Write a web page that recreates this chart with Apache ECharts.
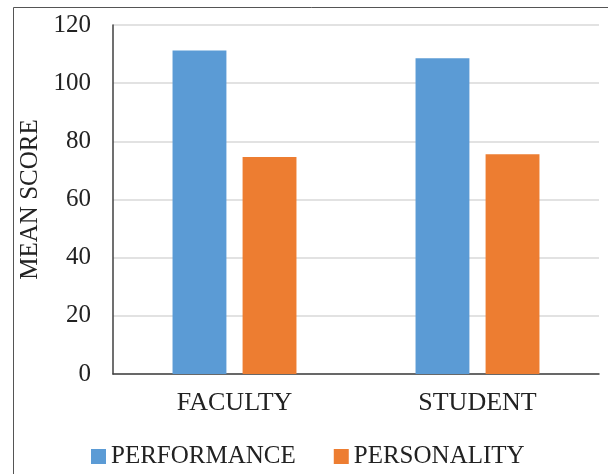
<!DOCTYPE html>
<html>
<head>
<meta charset="utf-8">
<script src="https://cdn.jsdelivr.net/npm/echarts@6/dist/echarts.min.js"></script>
<style>
  html, body { margin: 0; padding: 0; background: #fff; }
  #chart { width: 608px; height: 474px; }
</style>
</head>
<body>
<div id="chart"></div>
<script>
var groups = ["FACULTY", "STUDENT"]; // x categories
var seriesNames = ["PERFORMANCE", "PERSONALITY"];
var performance = [111.2, 108.6];
var personality = [74.6, 75.6];
var yTicks = { min: 0, max: 120, step: 20 };

var font = "Liberation Serif";
var chart = echarts.init(document.getElementById("chart"));

chart.setOption({
  animation: false,
  backgroundColor: "#fff",
  textStyle: { fontFamily: font },
  graphic: [{
    // outer frame (left + top edges visible)
    type: "rect",
    shape: { x: 13.5, y: 7.5, width: 700, height: 600 },
    style: { fill: "none", stroke: "#555", lineWidth: 1 },
    silent: true
  }],
  grid: { left: 113, right: 9, top: 25, bottom: 100 },
  legend: {
    data: seriesNames,
    left: 91,
    top: 444,
    padding: 0,
    itemWidth: 15,
    itemHeight: 15,
    itemGap: 38,
    icon: "rect",
    textStyle: { fontFamily: font, fontSize: 25, color: "#222" }
  },
  xAxis: {
    type: "category",
    data: groups,
    axisLine: { lineStyle: { color: "#404040", width: 1.5 } },
    axisTick: { show: false },
    axisLabel: { fontFamily: font, fontSize: 26, color: "#222", margin: 16 }
  },
  yAxis: {
    type: "value",
    min: yTicks.min,
    max: yTicks.max,
    interval: yTicks.step,
    name: "MEAN SCORE",
    nameLocation: "middle",
    nameGap: 64,
    nameTextStyle: { fontFamily: font, fontSize: 25, color: "#222" },
    axisLine: { show: true, lineStyle: { color: "#404040", width: 1.5 } },
    axisTick: { show: false },
    axisLabel: { fontFamily: font, fontSize: 25, color: "#222", margin: 22 },
    splitLine: { lineStyle: { color: "#d9d9d9", width: 1.5 } }
  },
  series: [
    {
      name: seriesNames[0],
      type: "bar",
      data: performance,
      barGap: "30%",
      barCategoryGap: "49%",
      itemStyle: { color: "#5b9bd5" }
    },
    {
      name: seriesNames[1],
      type: "bar",
      data: personality,
      itemStyle: { color: "#ed7d31" }
    }
  ]
});
</script>
</body>
</html>
